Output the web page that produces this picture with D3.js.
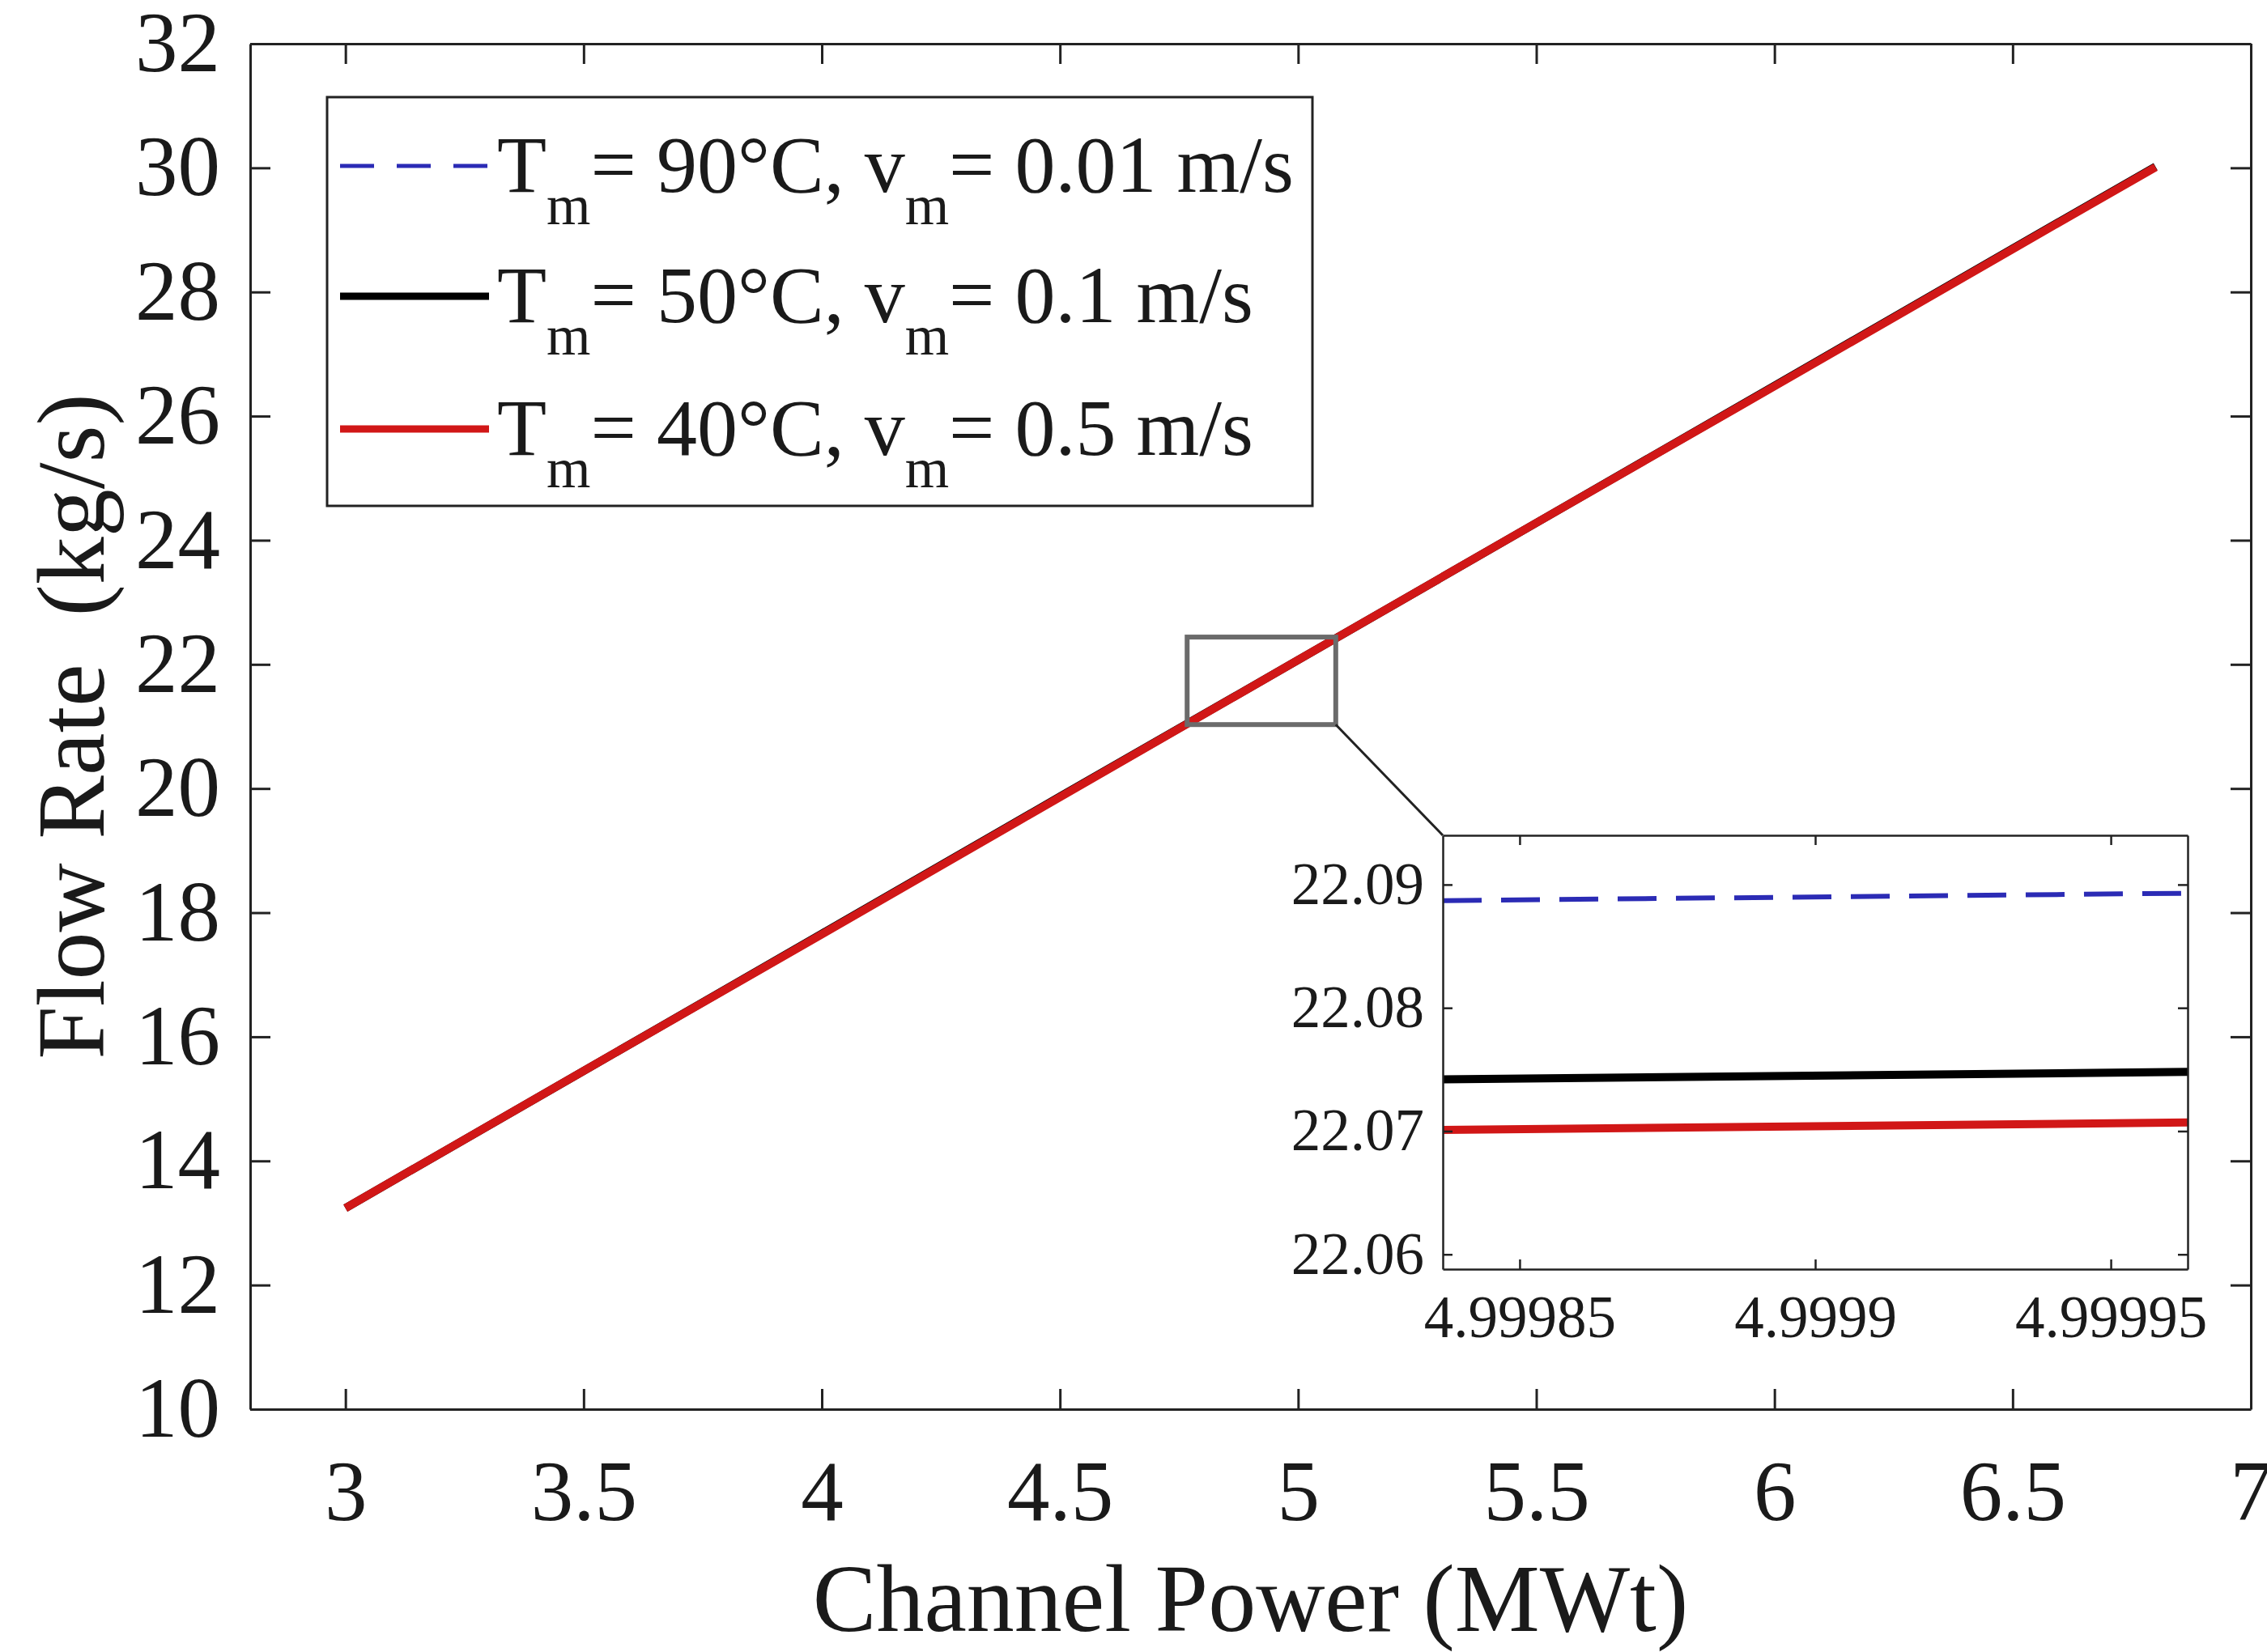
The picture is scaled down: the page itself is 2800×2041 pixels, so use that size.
<!DOCTYPE html>
<html>
<head>
<meta charset="utf-8">
<script src="https://cdn.jsdelivr.net/npm/d3@7"></script>
<style>
  body { margin: 0; background: #fff; }
  svg { display: block; }
  text { font-family: "Liberation Serif", "Times New Roman", serif; fill: #1a1a1a; }
</style>
</head>
<body>
<div class="chart"></div>
<script>
// main plot data (all three curves sit on top of each other at this scale)
var powers = [3, 3.5, 4, 4.5, 5, 5.5, 6, 6.5, 6.8];
var flow90 = [13.25, 15.46, 17.66, 19.87, 22.09, 24.29, 26.50, 28.71, 30.03];
var flow50 = [13.24, 15.45, 17.66, 19.87, 22.07, 24.28, 26.49, 28.70, 30.02];
var flow40 = [13.24, 15.45, 17.65, 19.86, 22.07, 24.28, 26.48, 28.69, 30.01];

// zoomed inset data
var zoomPowers = [4.999837, 4.999963];
var zoom90 = [22.0887, 22.0893];
var zoom50 = [22.0742, 22.0748];
var zoom40 = [22.0701, 22.0707];

var xTicks = [3, 3.5, 4, 4.5, 5, 5.5, 6, 6.5, 7];
var yTicks = [10, 12, 14, 16, 18, 20, 22, 24, 26, 28, 30, 32];
var zxTicks = [4.99985, 4.9999, 4.99995];
var zyTicks = [22.06, 22.07, 22.08, 22.09];
var zoomBox = {x0: 4.767, x1: 5.079, y0: 21.03, y1: 22.44};

var labels = [
  {T: "90", v: "0.01"},
  {T: "50", v: "0.1"},
  {T: "40", v: "0.5"}
];
var colors = ["#2b2bb5", "#000000", "#d11717"];

var W = 2800, H = 2041;
var m = {left: 309, right: 20, top: 54, bottom: 300};

var svg = d3.select(".chart").append("svg")
  .attr("width", W).attr("height", H);

var x = d3.scaleLinear().domain([2.8, 7]).range([m.left, W - m.right]);
var y = d3.scaleLinear().domain([10, 32]).range([H - m.bottom, m.top]);

var axisColor = "#222";
function styleAxis(g, fs) {
  g.selectAll("path").attr("stroke", axisColor).attr("stroke-width", 3);
  g.selectAll("line").attr("stroke", axisColor).attr("stroke-width", 3);
  g.selectAll("text").attr("font-size", fs).attr("fill", "#1a1a1a")
    .style("font-family", '"Liberation Serif", "Times New Roman", serif');
}

// axes with inward ticks on all sides
var axBottom = svg.append("g").attr("transform", "translate(0," + y(10) + ")")
  .call(d3.axisBottom(x).tickValues(xTicks).tickFormat(d3.format("")).tickSize(-25).tickSizeOuter(0).tickPadding(62));
styleAxis(axBottom, 105);
var axTop = svg.append("g").attr("transform", "translate(0," + y(32) + ")")
  .call(d3.axisTop(x).tickValues(xTicks).tickFormat("").tickSize(-25).tickSizeOuter(0));
styleAxis(axTop, 105);
var axLeft = svg.append("g").attr("transform", "translate(" + x(2.8) + ",0)")
  .call(d3.axisLeft(y).tickValues(yTicks).tickSize(-25).tickSizeOuter(0).tickPadding(37));
styleAxis(axLeft, 105);
var axRight = svg.append("g").attr("transform", "translate(" + x(7) + ",0)")
  .call(d3.axisRight(y).tickValues(yTicks).tickFormat("").tickSize(-25).tickSizeOuter(0));
styleAxis(axRight, 105);

svg.append("text")
  .attr("x", (x(2.8) + x(7)) / 2).attr("y", 2015)
  .attr("text-anchor", "middle").attr("font-size", 118)
  .text("Channel Power (MWt)");

svg.append("text")
  .attr("transform", "translate(128," + (y(10) + y(32)) / 2 + ") rotate(-90)")
  .attr("text-anchor", "middle").attr("font-size", 118)
  .style("white-space", "pre")
  .text("Flow Rate  (kg/s)");

// lines
var series = [flow90, flow50, flow40];
var line = d3.line().x(function(d, i) { return x(powers[i]); }).y(function(d) { return y(d); });
series.forEach(function(s, i) {
  svg.append("path")
    .datum(s)
    .attr("d", line)
    .attr("fill", "none")
    .attr("stroke", colors[i])
    .attr("stroke-width", i == 0 ? 6 : 10)
    .attr("stroke-dasharray", i == 0 ? "48,24" : null);
});

// zoom box + connector
svg.append("rect")
  .attr("x", x(zoomBox.x0)).attr("y", y(zoomBox.y1))
  .attr("width", x(zoomBox.x1) - x(zoomBox.x0))
  .attr("height", y(zoomBox.y0) - y(zoomBox.y1))
  .attr("fill", "none").attr("stroke", "#6b6b6b").attr("stroke-width", 6);

// inset axes
var ins = {left: 1782, right: 2702, top: 1032, bottom: 1568};
svg.append("line")
  .attr("x1", x(zoomBox.x1)).attr("y1", y(zoomBox.y0))
  .attr("x2", ins.left).attr("y2", ins.top)
  .attr("stroke", "#222").attr("stroke-width", 3);

var zx = d3.scaleLinear().domain([4.999837, 4.999963]).range([ins.left, ins.right]);
var zy = d3.scaleLinear().domain([22.0588, 22.094]).range([ins.bottom, ins.top]);

svg.append("rect")
  .attr("x", ins.left).attr("y", ins.top)
  .attr("width", ins.right - ins.left).attr("height", ins.bottom - ins.top)
  .attr("fill", "#fff");

svg.append("clipPath").attr("id", "insclip").append("rect")
  .attr("x", ins.left).attr("y", ins.top)
  .attr("width", ins.right - ins.left).attr("height", ins.bottom - ins.top);

var zline = d3.line().x(function(d, i) { return zx(zoomPowers[i]); }).y(function(d) { return zy(d); });
[zoom90, zoom50, zoom40].forEach(function(s, i) {
  svg.append("path")
    .datum(s)
    .attr("d", zline)
    .attr("clip-path", "url(#insclip)")
    .attr("fill", "none")
    .attr("stroke", colors[i])
    .attr("stroke-width", i == 0 ? 6 : 10)
    .attr("stroke-dasharray", i == 0 ? "48,24" : null);
});

var zb = svg.append("g").attr("transform", "translate(0," + ins.bottom + ")")
  .call(d3.axisBottom(zx).tickValues(zxTicks).tickFormat(d3.format("")).tickSize(-12).tickSizeOuter(0).tickPadding(32));
styleAxis(zb, 73);
var zt = svg.append("g").attr("transform", "translate(0," + ins.top + ")")
  .call(d3.axisTop(zx).tickValues(zxTicks).tickFormat("").tickSize(-12).tickSizeOuter(0));
styleAxis(zt, 73);
var zl = svg.append("g").attr("transform", "translate(" + ins.left + ",0)")
  .call(d3.axisLeft(zy).tickValues(zyTicks).tickFormat(d3.format(".2f")).tickSize(-12).tickSizeOuter(0).tickPadding(23));
styleAxis(zl, 73);
var zr = svg.append("g").attr("transform", "translate(" + ins.right + ",0)")
  .call(d3.axisRight(zy).tickValues(zyTicks).tickFormat("").tickSize(-12).tickSizeOuter(0));
styleAxis(zr, 73);
[zb, zt, zl, zr].forEach(function(g) { g.selectAll("path, line").attr("stroke-width", 2.5); });

// legend
var leg = svg.append("g");
leg.append("rect")
  .attr("x", 404).attr("y", 120).attr("width", 1217).attr("height", 505)
  .attr("fill", "#fff").attr("stroke", "#222").attr("stroke-width", 3);

var rowY = [205, 366, 530];
labels.forEach(function(d, i) {
  leg.append("line")
    .attr("x1", 420).attr("x2", 604)
    .attr("y1", rowY[i]).attr("y2", rowY[i])
    .attr("stroke", colors[i])
    .attr("stroke-width", i == 0 ? 5 : 9)
    .attr("stroke-dasharray", i == 0 ? "42,28" : null);
  var t = leg.append("text")
    .attr("x", 614).attr("y", rowY[i] + 32)
    .attr("font-size", 100);
  t.append("tspan").text("T");
  t.append("tspan").attr("font-size", 70).attr("dy", 40).text("m");
  t.append("tspan").attr("dy", -40).text("= " + d.T + "°C, v");
  t.append("tspan").attr("font-size", 70).attr("dy", 40).text("m");
  t.append("tspan").attr("dy", -40).text("= " + d.v + " m/s");
});
</script>
</body>
</html>
